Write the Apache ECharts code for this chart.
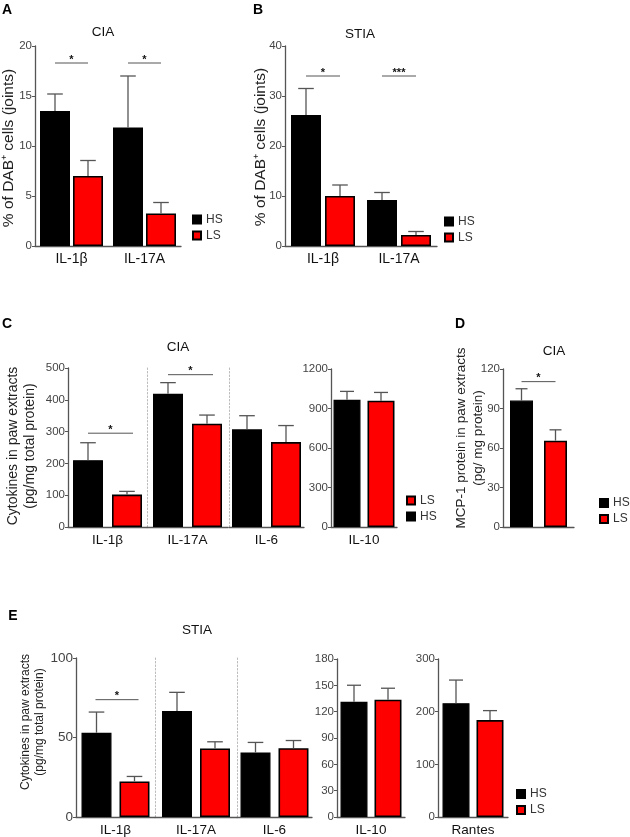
<!DOCTYPE html>
<html><head><meta charset="utf-8">
<script src="https://cdn.jsdelivr.net/npm/echarts@6/dist/echarts.min.js"></script>
<style>html,body{margin:0;padding:0;background:#fff}#c{width:630px;height:837px}</style>
</head><body><div id="c"></div>
<script>
// ---------- DATA ----------
// Panel A: CIA, % of DAB+ cells (joints)
const catA = ['IL-1β', 'IL-17A'];
const hsA = [13.5, 11.85];
const hsErrA = [1.7, 5.15];
const lsA = [7.0, 3.25];
const lsErrA = [1.55, 1.1];
const sigCatA = [0, 1];
const sigYA = [18.3, 18.3];
const sigTxtA = ['*', '*'];
const yTicksA = [0, 20, 5];

// Panel B: STIA, % of DAB+ cells (joints)
const catB = ['IL-1β', 'IL-17A'];
const hsB = [26.2, 9.2];
const hsErrB = [5.3, 1.5];
const lsB = [10.0, 2.2];
const lsErrB = [2.2, 0.7];
const sigCatB = [0, 1];
const sigYB = [34, 34];
const sigTxtB = ['*', '***'];
const yTicksB = [0, 40, 10];

// Panel C: CIA cytokines in paw extracts (pg/mg total protein)
const catC = ['IL-1β', 'IL-17A', 'IL-6', 'IL-10'];
const hsC = [210, 419, 307, 966];
const hsErrC = [55, 35, 43, 64];
const lsC = [102, 325, 267, 959];
const lsErrC = [10, 27, 52, 63];
const sigCatC = [0, 1];
const sigYC = [295, 479];
const sigTxtC = ['*', '*'];
const yTicksC = [0, 500, 100];
const yTicksC10 = [0, 1200, 300];

// Panel D: CIA MCP-1 protein (pg/mg protein)
const catD = ['MCP-1'];
const hsD = [96];
const hsErrD = [9];
const lsD = [65.6];
const lsErrD = [8.2];
const sigCatD = [0];
const sigYD = [110.4];
const sigTxtD = ['*'];
const yTicksD = [0, 120, 30];

// Panel E: STIA cytokines in paw extracts (pg/mg total protein)
const catE = ['IL-1β', 'IL-17A', 'IL-6', 'IL-10', 'Rantes'];
const hsE = [53, 66.7, 40.6, 131.3, 216];
const hsErrE = [13, 11.7, 6.3, 18.8, 44];
const lsE = [22.4, 43.1, 43.3, 133.6, 184];
const lsErrE = [3.1, 4.2, 4.8, 13.1, 18];
const sigCatE = [0];
const sigYE = [73.8];
const sigTxtE = ['*'];
const yTicksE = [0, 100, 50];
const yTicksE10 = [0, 180, 30];
const yTicksERantes = [0, 300, 100];

// ---------- BUILD ----------
const FONT = '"Liberation Sans", Arial, Helvetica, sans-serif';
const AXIS = '#555';
const grids = [], xAxes = [], yAxes = [], series = [];

function sigList(cats, ys, txts, only) {
  const out = [];
  cats.forEach((c, k) => { if (only === undefined || c === only) out.push({ ci: only === undefined ? c : 0, y: ys[k], t: txts[k] }); });
  return out;
}

function addGrid(g) {
  const i = grids.length;
  grids.push({ left: g.rect[0], top: g.rect[1], width: g.rect[2], height: g.rect[3] });
  xAxes.push({
    type: 'category', gridIndex: i, data: g.cats,
    axisLine: { show: true, lineStyle: { color: AXIS, width: 1.3 } },
    axisTick: { show: false },
    axisLabel: { show: g.xLabel !== false, fontSize: g.xFont, color: '#111', margin: g.xMargin || 6, fontFamily: FONT, interval: 0 }
  });
  yAxes.push({
    type: 'value', gridIndex: i, min: g.ticks[0], max: g.ticks[1], interval: g.ticks[2],
    axisLine: { show: true, lineStyle: g.dotted ? { color: '#bbb', type: [1.5, 2], width: 1 } : { color: AXIS, width: 1.3 } },
    axisTick: { show: !g.dotted, length: 3, lineStyle: { color: AXIS, width: 1 } },
    axisLabel: { show: !g.dotted, fontSize: g.tickFont, color: '#444', margin: 3, fontFamily: FONT, formatter: v => String(v) },
    splitLine: { show: false }
  });
  const gapPct = (g.gap / g.barW * 100) + '%';
  series.push({ type: 'bar', name: 'HS', xAxisIndex: i, yAxisIndex: i, data: g.hs, barWidth: g.barW, barGap: gapPct,
    itemStyle: { color: '#000', borderColor: '#000', borderWidth: 1.2 }, silent: true });
  series.push({ type: 'bar', name: 'LS', xAxisIndex: i, yAxisIndex: i, data: g.ls, barWidth: g.barW, barGap: gapPct,
    itemStyle: { color: '#ff0000', borderColor: '#000', borderWidth: 1.6 }, silent: true });
  const off = (g.barW + g.gap) / 2;
  const errSeries = (vals, errs, dx) => ({
    type: 'custom', xAxisIndex: i, yAxisIndex: i, silent: true, z: 5,
    data: vals.map((v, k) => [k, v, errs[k]]),
    encode: { x: 0, y: 1 },
    renderItem: (p, api) => {
      const base = api.coord([api.value(0), api.value(1)]);
      const top = api.coord([api.value(0), api.value(1) + api.value(2)]);
      const x = base[0] + dx, h = g.barW * 0.26;
      const st = { stroke: '#555', lineWidth: 1.3 };
      return { type: 'group', children: [
        { type: 'line', shape: { x1: x, y1: base[1], x2: x, y2: top[1] }, style: st },
        { type: 'line', shape: { x1: x - h, y1: top[1], x2: x + h, y2: top[1] }, style: st }
      ] };
    }
  });
  series.push(errSeries(g.hs, g.hsErr, -off));
  series.push(errSeries(g.ls, g.lsErr, off));
  if (g.sig && g.sig.length) {
    const pad = g.sigPad || [0, 0];
    series.push({
      type: 'custom', xAxisIndex: i, yAxisIndex: i, silent: true, z: 6,
      data: g.sig.map(s => [s.ci, s.y]),
      encode: { x: 0, y: 1 },
      renderItem: (p, api) => {
        const c = api.coord([api.value(0), api.value(1)]);
        const x1 = c[0] - off - pad[0], x2 = c[0] + off + pad[1];
        return { type: 'group', children: [
          { type: 'line', shape: { x1: x1, y1: c[1], x2: x2, y2: c[1] }, style: { stroke: '#555', lineWidth: 1 } },
          { type: 'text', x: (x1 + x2) / 2, y: c[1] + 2, style: { text: g.sig[p.dataIndex].t, align: 'center', verticalAlign: 'bottom', fill: '#111', font: 'bold 11px ' + FONT } }
        ] };
      }
    });
  }
}

// A
addGrid({ rect: [35, 46, 146, 200], cats: catA, hs: hsA, hsErr: hsErrA, ls: lsA, lsErr: lsErrA,
  sig: sigList(sigCatA, sigYA, sigTxtA), ticks: yTicksA, barW: 30, gap: 3, xFont: 14, tickFont: 11.5 });
// B
addGrid({ rect: [285, 46, 152, 200], cats: catB, hs: hsB, hsErr: hsErrB, ls: lsB, lsErr: lsErrB,
  sig: sigList(sigCatB, sigYB, sigTxtB), ticks: yTicksB, barW: 30, gap: 4, xFont: 14, tickFont: 11.5 });
// C (three grouped categories sharing a scale, then IL-10)
const rectC = [[68, 368, 79, 159], [147, 368, 81, 159], [229, 368, 75, 159]];
for (let k = 0; k < 3; k++) {
  addGrid({ rect: rectC[k], cats: [catC[k]], hs: [hsC[k]], hsErr: [hsErrC[k]], ls: [lsC[k]], lsErr: [lsErrC[k]],
    sig: sigList(sigCatC, sigYC, sigTxtC, k), sigPad: [0, 6], ticks: yTicksC, dotted: k > 0,
    barW: 30, gap: 9, xFont: 13.5, tickFont: 11.5 });
}
addGrid({ rect: [331, 369, 66, 158], cats: [catC[3]], hs: [hsC[3]], hsErr: [hsErrC[3]], ls: [lsC[3]], lsErr: [lsErrC[3]],
  sig: [], ticks: yTicksC10, barW: 27, gap: 7, xFont: 13.5, tickFont: 11.5 });
// D
addGrid({ rect: [503, 369, 71, 158], cats: catD, hs: hsD, hsErr: hsErrD, ls: lsD, lsErr: lsErrD,
  sig: sigList(sigCatD, sigYD, sigTxtD), ticks: yTicksD, barW: 23, gap: 11, xLabel: false, tickFont: 11.5 });
// E
const rectE = [[76, 658, 79, 160], [155, 658, 82, 160], [237, 658, 75, 160]];
for (let k = 0; k < 3; k++) {
  addGrid({ rect: rectE[k], cats: [catE[k]], hs: [hsE[k]], hsErr: [hsErrE[k]], ls: [lsE[k]], lsErr: [lsErrE[k]],
    sig: sigList(sigCatE, sigYE, sigTxtE, k), sigPad: [1, 4], ticks: yTicksE, dotted: k > 0,
    barW: 30, gap: 8, xFont: 13.5, tickFont: 13.5 });
}
addGrid({ rect: [337, 659, 68, 159], cats: [catE[3]], hs: [hsE[3]], hsErr: [hsErrE[3]], ls: [lsE[3]], lsErr: [lsErrE[3]],
  sig: [], ticks: yTicksE10, barW: 27, gap: 7, xFont: 13.5, tickFont: 11.5 });
addGrid({ rect: [438, 659, 70, 159], cats: [catE[4]], hs: [hsE[4]], hsErr: [hsErrE[4]], ls: [lsE[4]], lsErr: [lsErrE[4]],
  sig: [], ticks: yTicksERantes, barW: 27, gap: 7, xFont: 13.5, tickFont: 11.5 });

function legendAt(left, top, order) {
  return { data: order, left: left, top: top, orient: 'vertical', padding: 0, itemWidth: 8, itemHeight: 8, itemGap: 4,
    icon: 'rect', selectedMode: false, textStyle: { fontSize: 12, color: '#333', fontFamily: FONT, lineHeight: 12 } };
}

function txt(x, y, s, font, fill) {
  return { type: 'text', x: x, y: y, silent: true, style: { text: s, align: 'center', verticalAlign: 'middle', font: font, fill: fill || '#111' } };
}
function vtxt(x, y, s, font, lh) {
  return { type: 'text', x: x, y: y, rotation: Math.PI / 2, silent: true,
    style: { text: s, align: 'center', verticalAlign: 'middle', font: font, fill: '#222', lineHeight: lh } };
}

const chart = echarts.init(document.getElementById('c'), null, { renderer: 'canvas' });
chart.setOption({
  animation: false,
  backgroundColor: '#fff',
  grid: grids, xAxis: xAxes, yAxis: yAxes, series: series,
  legend: [
    legendAt(192, 213.5, ['HS', 'LS']),
    legendAt(444, 215.5, ['HS', 'LS']),
    legendAt(406, 494.5, ['LS', 'HS']),
    legendAt(599, 497, ['HS', 'LS']),
    legendAt(516, 788, ['HS', 'LS'])
  ],
  graphic: [
    txt(7, 10, 'A', 'bold 14px ' + FONT, '#000'),
    txt(258, 10, 'B', 'bold 14px ' + FONT, '#000'),
    txt(7, 324, 'C', 'bold 14px ' + FONT, '#000'),
    txt(460, 324, 'D', 'bold 14px ' + FONT, '#000'),
    txt(13, 616, 'E', 'bold 14px ' + FONT, '#000'),
    txt(103, 32, 'CIA', '13.5px ' + FONT),
    txt(360, 34, 'STIA', '13.5px ' + FONT),
    txt(178, 347, 'CIA', '13.5px ' + FONT),
    txt(554, 351, 'CIA', '13.5px ' + FONT),
    txt(197, 630, 'STIA', '13.5px ' + FONT),
    vtxt(9, 148, '% of DAB⁺ cells (joints)', '15.5px ' + FONT, 16),
    vtxt(261, 147, '% of DAB⁺ cells (joints)', '15.5px ' + FONT, 16),
    vtxt(21.5, 446, 'Cytokines in paw extracts\n(pg/mg total protein)', '14px ' + FONT, 17),
    vtxt(470, 438, 'MCP-1 protein in paw extracts\n(pg/ mg protein)', '13.5px ' + FONT, 17),
    vtxt(33, 722, 'Cytokines in paw extracts\n(pg/mg total protein)', '12px ' + FONT, 14)
  ]
});
</script></body></html>
